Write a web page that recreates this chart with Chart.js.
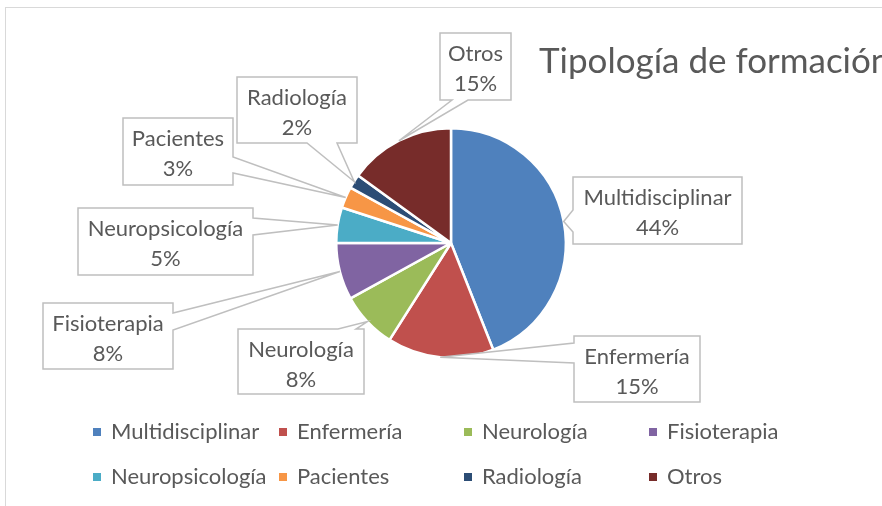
<!DOCTYPE html>
<html><head><meta charset="utf-8">
<script src="https://cdn.jsdelivr.net/npm/chart.js@4.4.0/dist/chart.umd.min.js"></script>
<style>html,body{margin:0;padding:0;background:#fff;overflow:hidden}#wrap{width:882px;height:506px;position:relative}</style>
</head><body><div id="wrap"><canvas id="c" width="882" height="506"></canvas></div>
<script>
const chartTitle = 'Tipología de formación';
const categories = ['Multidisciplinar','Enfermería','Neurología','Fisioterapia','Neuropsicología','Pacientes','Radiología','Otros'];
const percentages = [44, 15, 8, 8, 5, 3, 2, 15];
const sliceColors = ['#4F81BD','#C0504D','#9BBB59','#8064A2','#4BACC6','#F79646','#2C4D75','#772C2A'];

// callout box layout (x, y, w, h, side of wedge, wedge base start/end)
const calloutLayout = [
  {x:573, y:177, w:169, h:67, side:'left',   b1:210, b2:232},
  {x:574, y:336, w:126, h:66, side:'left',   b1:343, b2:363},
  {x:238, y:329, w:126, h:65, side:'top',    b1:338, b2:356},
  {x:43,  y:303, w:130, h:66, side:'right',  b1:313, b2:330},
  {x:78,  y:208, w:175, h:67, side:'right',  b1:218, b2:235},
  {x:123, y:118, w:110, h:67, side:'right',  b1:157, b2:173},
  {x:237, y:77,  w:120, h:66, side:'bottom', b1:307, b2:337},
  {x:440, y:33,  w:71,  h:67, side:'bottom', b1:452, b2:468}
];
const legendCols = [93, 279, 464, 649];
const legendRows = [432, 477];
const FONT = 'Lato, "Open Sans", sans-serif';
const TEXT = '#595959';

const decor = {
  id: 'decor',
  beforeDraw(chart) {
    const ctx = chart.ctx;
    ctx.save();
    ctx.fillStyle = '#fff';
    ctx.fillRect(0, 0, chart.width, chart.height);
    ctx.strokeStyle = '#d9d9d9';
    ctx.lineWidth = 1;
    ctx.strokeRect(5.5, 7.5, 1000, 1000);
    ctx.restore();
  },
  afterDraw(chart) {
    const ctx = chart.ctx;
    const meta = chart.getDatasetMeta(0);
    ctx.save();
    // title
    ctx.fillStyle = TEXT;
    ctx.font = '35px ' + FONT;
    ctx.textAlign = 'left';
    ctx.textBaseline = 'alphabetic';
    ctx.fillText(chartTitle, 539, 73);
    // callouts
    meta.data.forEach((arc, i) => {
      const p = arc.getProps(['x','y','startAngle','endAngle','outerRadius'], true);
      const mid = (p.startAngle + p.endAngle) / 2;
      const tx = p.x + Math.cos(mid) * p.outerRadius;
      const ty = p.y + Math.sin(mid) * p.outerRadius;
      const L = calloutLayout[i];
      const {x, y, w, h} = L;
      ctx.beginPath();
      if (L.side === 'left') {
        ctx.moveTo(x, y); ctx.lineTo(x + w, y); ctx.lineTo(x + w, y + h); ctx.lineTo(x, y + h);
        ctx.lineTo(x, L.b2); ctx.lineTo(tx, ty); ctx.lineTo(x, L.b1);
      } else if (L.side === 'right') {
        ctx.moveTo(x, y); ctx.lineTo(x + w, y); ctx.lineTo(x + w, L.b1); ctx.lineTo(tx, ty);
        ctx.lineTo(x + w, L.b2); ctx.lineTo(x + w, y + h); ctx.lineTo(x, y + h);
      } else if (L.side === 'top') {
        ctx.moveTo(x, y); ctx.lineTo(L.b1, y); ctx.lineTo(tx, ty); ctx.lineTo(L.b2, y);
        ctx.lineTo(x + w, y); ctx.lineTo(x + w, y + h); ctx.lineTo(x, y + h);
      } else {
        ctx.moveTo(x, y); ctx.lineTo(x + w, y); ctx.lineTo(x + w, y + h); ctx.lineTo(L.b2, y + h);
        ctx.lineTo(tx, ty); ctx.lineTo(L.b1, y + h); ctx.lineTo(x, y + h);
      }
      ctx.closePath();
      ctx.fillStyle = '#fff';
      ctx.fill();
      ctx.strokeStyle = '#bfbfbf';
      ctx.lineWidth = 1.5;
      ctx.lineJoin = 'miter';
      ctx.stroke();
      ctx.fillStyle = TEXT;
      ctx.font = '22px ' + FONT;
      ctx.textAlign = 'center';
      ctx.textBaseline = 'middle';
      ctx.fillText(categories[i], x + w / 2, y + 21);
      ctx.fillText(percentages[i] + '%', x + w / 2, y + 51);
    });
    // legend
    ctx.font = '22px ' + FONT;
    ctx.textAlign = 'left';
    ctx.textBaseline = 'middle';
    categories.forEach((name, i) => {
      const cx = legendCols[i % 4];
      const cy = legendRows[Math.floor(i / 4)];
      ctx.fillStyle = sliceColors[i];
      ctx.fillRect(cx, cy - 4, 8, 8);
      ctx.fillStyle = TEXT;
      ctx.fillText(name, cx + 18, cy);
    });
    ctx.restore();
  }
};

new Chart(document.getElementById('c'), {
  type: 'pie',
  data: {
    labels: categories,
    datasets: [{
      data: percentages,
      backgroundColor: sliceColors,
      borderColor: '#ffffff',
      borderWidth: 2.5,
      hoverOffset: 0
    }]
  },
  options: {
    responsive: false,
    animation: false,
    events: [],
    layout: {padding: {left: 335, right: 315, top: 127, bottom: 147}},
    plugins: {legend: {display: false}, title: {display: false}, tooltip: {enabled: false}}
  },
  plugins: [decor]
});
</script></body></html>
